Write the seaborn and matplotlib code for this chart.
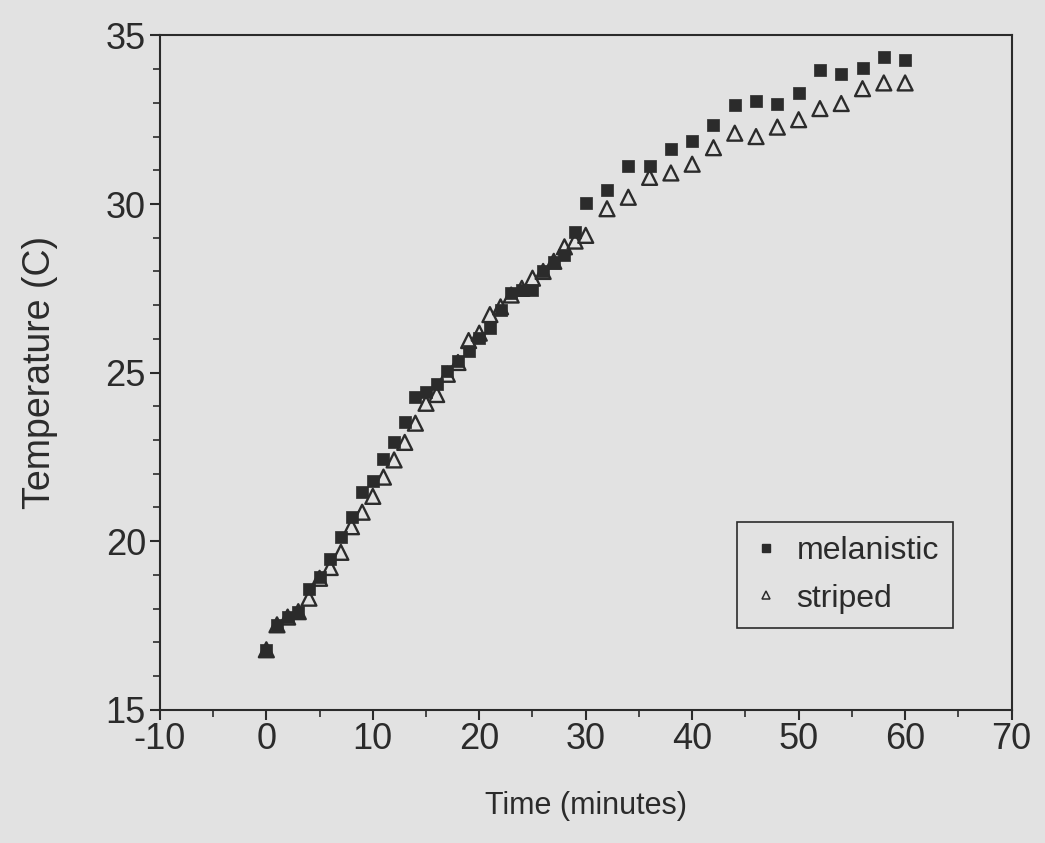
import numpy as np
import pandas as pd
import matplotlib
matplotlib.use('Agg')
import matplotlib.pyplot as plt
from matplotlib.ticker import MultipleLocator
from matplotlib.lines import Line2D
import seaborn as sns

# time points (minutes): every minute to 30, then every 2 minutes
time_min = list(range(0, 31)) + list(range(32, 61, 2))

melanistic = [16.78, 17.52, 17.75, 17.91, 18.57, 18.93, 19.46, 20.12, 20.73, 21.47,
              21.79, 22.45, 22.95, 23.54, 24.28, 24.43, 24.65, 25.06, 25.35, 25.64,
              26.04, 26.33, 26.87, 27.35, 27.45, 27.45, 28.00, 28.28, 28.48, 29.17,
              30.02, 30.41, 31.14, 31.14, 31.63, 31.87, 32.33, 32.93, 33.05, 32.96,
              33.29, 33.98, 33.87, 34.03, 34.36, 34.26]

striped = [16.78, 17.52, 17.75, 17.91, 18.31, 18.90, 19.22, 19.67, 20.43, 20.86,
           21.33, 21.90, 22.41, 22.93, 23.50, 24.09, 24.35, 24.95, 25.30, 25.95,
           26.17, 26.72, 26.95, 27.30, 27.50, 27.80, 28.00, 28.30, 28.73, 28.90,
           29.07, 29.86, 30.20, 30.79, 30.92, 31.18, 31.67, 32.10, 32.00, 32.28,
           32.50, 32.83, 32.98, 33.42, 33.59, 33.59]

df = pd.DataFrame({'time': time_min * 2,
                   'temp': melanistic + striped,
                   'group': ['melanistic'] * len(time_min) + ['striped'] * len(time_min)})

bg = '#e2e2e2'
ink = '#2b2b2b'

sns.set_style('ticks')
plt.rcParams['font.family'] = ['Liberation Sans', 'DejaVu Sans']
plt.rcParams['axes.unicode_minus'] = False

fig = plt.figure(figsize=(10.45, 8.43), dpi=100, facecolor=bg)
ax = fig.add_axes([0.153, 0.158, 0.815, 0.800])
ax.set_facecolor(bg)

# open triangles first so the squares sit on top
sns.scatterplot(data=df[df['group'] == 'striped'], x='time', y='temp', marker='^',
                s=115, facecolors='none', edgecolor=ink, linewidth=1.7, ax=ax, legend=False)
sns.scatterplot(data=df[df['group'] == 'melanistic'], x='time', y='temp', marker='s',
                s=85, color=ink, edgecolor=ink, linewidth=0.5, ax=ax, legend=False)

ax.set_xlim(-10, 70)
ax.set_ylim(15, 35)
ax.xaxis.set_major_locator(MultipleLocator(10))
ax.xaxis.set_minor_locator(MultipleLocator(5))
ax.yaxis.set_major_locator(MultipleLocator(5))
ax.yaxis.set_minor_locator(MultipleLocator(1))
ax.tick_params(which='major', length=7, width=1.5, colors=ink, labelsize=26, direction='out')
ax.tick_params(which='minor', length=5, width=1.2, colors=ink, direction='out')
ax.tick_params(axis='x', pad=2)
ax.tick_params(axis='y', pad=3)
for side in ['top', 'right', 'left', 'bottom']:
    ax.spines[side].set_visible(True)
    ax.spines[side].set_color(ink)
    ax.spines[side].set_linewidth(1.5)

ax.set_xlabel('Time (minutes)', fontsize=22, color=ink, labelpad=24)
ax.set_ylabel('Temperature (C)', fontsize=27, color=ink, labelpad=34)

handles = [Line2D([], [], linestyle='none', marker='s', markersize=6, color=ink),
           Line2D([], [], linestyle='none', marker='^', markersize=6,
                  markerfacecolor='none', markeredgecolor=ink, markeredgewidth=1.1)]
leg = ax.legend(handles, ['melanistic', 'striped'], loc='upper left',
                bbox_to_anchor=(0.678, 0.279), borderaxespad=0, fontsize=23,
                frameon=True, fancybox=False, edgecolor=ink, facecolor=bg, framealpha=1,
                handletextpad=0.5, borderpad=0.45, labelspacing=0.55, handlelength=0.9)
leg.get_frame().set_linewidth(1.2)
for t in leg.get_texts():
    t.set_color(ink)

fig.savefig('out.png', dpi=100, facecolor=bg)
